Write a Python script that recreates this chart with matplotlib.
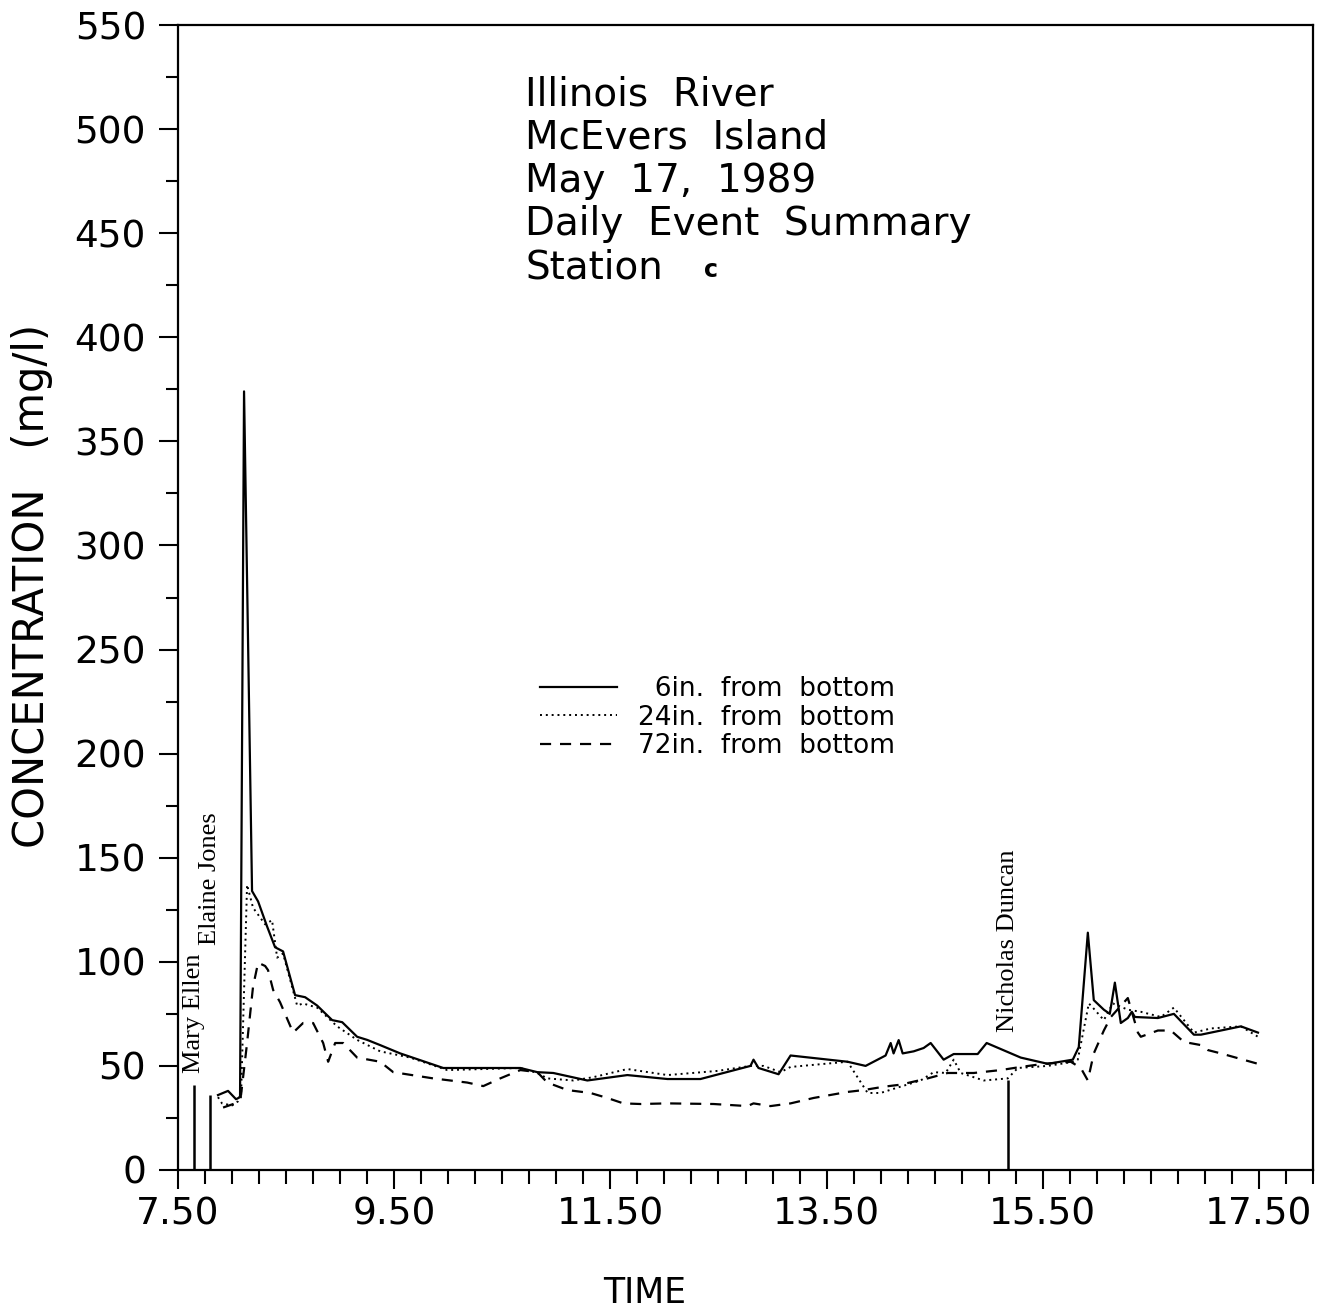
import matplotlib
matplotlib.use('Agg')
import matplotlib.pyplot as plt
from matplotlib.ticker import FixedLocator, FuncFormatter
from matplotlib.lines import Line2D
import numpy as np

# ---------------- data ----------------
t_6in = [7.870, 7.963, 8.037, 8.074, 8.111, 8.185, 8.241, 8.324, 8.398, 8.472,
         8.583, 8.676, 8.787, 8.926, 9.019, 9.157, 9.250, 9.370, 9.556, 9.954,
         10.481, 10.667, 10.824, 10.972, 11.287, 11.657, 12.028, 12.333, 12.796, 12.824,
         12.870, 13.056, 13.167, 13.694, 13.861, 13.972, 14.046, 14.093, 14.120, 14.167,
         14.204, 14.306, 14.398, 14.463, 14.583, 14.676, 14.898, 14.981, 15.296, 15.546,
         15.778, 15.833, 15.917, 15.972, 16.065, 16.120, 16.167, 16.222, 16.287, 16.324,
         16.352, 16.565, 16.713, 16.898, 16.963, 17.333, 17.491]
c_6in = [36, 38, 34, 35, 374, 134, 129, 117, 107, 105,
         84, 83, 79, 72, 71, 64, 62.5, 60, 56, 49,
         49, 49, 47, 46.6, 43, 45.6, 43.7, 43.7, 50, 53,
         49, 46, 55, 52, 50, 53, 55, 61, 56, 62.4,
         56, 57, 58.6, 61, 53, 55.7, 55.7, 61, 54, 51,
         53, 59, 114, 81.6, 77, 75, 90, 70.6, 73, 76,
         73.5, 73, 75, 65, 65, 69, 66]

t_24in = [7.870, 7.907, 8.000, 8.056, 8.083, 8.139, 8.194, 8.306, 8.370, 8.417,
          8.472, 8.602, 8.657, 8.787, 8.972, 9.157, 9.370, 9.648, 9.991, 10.667,
          10.824, 10.917, 11.157, 11.343, 11.657, 12.028, 12.491, 12.796, 12.917, 13.074,
          13.167, 13.694, 13.880, 14.000, 14.120, 14.370, 14.491, 14.602, 14.676, 14.741,
          14.954, 15.176, 15.269, 15.546, 15.787, 15.824, 15.926, 15.963, 16.065, 16.148,
          16.287, 16.407, 16.593, 16.713, 16.898, 17.056, 17.333, 17.491]
c_24in = [35, 32, 31, 33, 35, 137, 126, 118, 120, 102,
          104, 79, 80, 78, 69, 62.5, 57, 54, 48, 49,
          46.6, 44, 43, 44.6, 48.5, 45.6, 47.6, 50, 50, 47,
          49.5, 52, 37, 37, 39, 43, 47, 46.6, 53, 46.6,
          43, 44, 49, 50, 52, 53, 80, 78, 72, 80,
          77, 76, 73.5, 78, 66, 68, 69, 64]

t_72in = [7.917, 8.028, 8.083, 8.139, 8.194, 8.241, 8.306, 8.333, 8.380, 8.444,
          8.565, 8.657, 8.750, 8.843, 8.889, 8.954, 9.028, 9.157, 9.370, 9.491,
          9.861, 10.176, 10.324, 10.481, 10.667, 10.824, 10.917, 11.102, 11.315, 11.472,
          11.620, 11.778, 12.028, 12.454, 12.769, 12.824, 12.981, 13.167, 13.380, 13.694,
          13.843, 14.028, 14.185, 14.435, 14.620, 14.861, 15.111, 15.296, 15.509, 15.759,
          15.852, 15.917, 15.972, 16.065, 16.130, 16.287, 16.380, 16.407, 16.565, 16.685,
          16.806, 16.963, 17.028, 17.148, 17.491]
c_72in = [30, 32, 36, 61, 88, 99.6, 98, 96, 86.5, 80.6,
          66, 70.6, 70.6, 61, 52, 61, 61, 54, 52, 47,
          44, 42, 40.3, 44, 48, 47, 42, 38.4, 37, 34.6,
          32, 31.7, 32, 31.7, 30.7, 32, 30.7, 32, 34.6, 37.5,
          38.4, 40, 41, 44, 46.6, 46.6, 48, 49.5, 51, 52,
          49, 43, 56, 67, 73.5, 82.6, 66, 64, 67, 67,
          61.5, 60, 57.6, 56, 51]

series_labels = ["  6in.  from  bottom", "24in.  from  bottom", "72in.  from  bottom"]

# vessel passage markers
vessel_names = ["Mary Ellen", "Elaine Jones", "Nicholas Duncan"]
vessel_times = [7.648, 7.796, 15.176]
vessel_heights = [41, 36, 43]
vessel_label_y = [46.6, 108, 66.3]

title_lines = ["Illinois  River", "McEvers  Island", "May  17,  1989",
               "Daily  Event  Summary", "Station"]
station_id = "c"

x_major = [7.5, 9.5, 11.5, 13.5, 15.5, 17.5]
y_major = list(range(0, 551, 50))

# ---------------- figure ----------------
W, H = 1319, 1311
fig = plt.figure(figsize=(W / 100, H / 100), dpi=100)
L, R, T, B = 178, 1313, 25, 1170
ax = fig.add_axes([L / W, 1 - B / H, (R - L) / W, (B - T) / H])

lw = 1.6
ax.plot(t_6in, c_6in, color='black', lw=lw, linestyle='-')
ax.plot(t_24in, c_24in, color='black', lw=1.4, linestyle=(0, (1, 2)))
ax.plot(t_72in, c_72in, color='black', lw=lw, linestyle=(0, (5, 4)))

for name, tx, hgt, ly in zip(vessel_names, vessel_times, vessel_heights, vessel_label_y):
    ax.vlines(tx, 0, hgt, color='black', lw=1.8)
    ax.text(tx, ly, name, rotation=90, ha='center', va='bottom',
            family='Liberation Serif', fontsize=19, color='black')

ax.set_xlim(7.5, 18.0)
ax.set_ylim(0, 550)

ax.xaxis.set_major_locator(FixedLocator(x_major))
ax.xaxis.set_minor_locator(FixedLocator(list(np.arange(7.5, 18.001, 0.25))))
ax.yaxis.set_major_locator(FixedLocator(y_major))
ax.yaxis.set_minor_locator(FixedLocator(list(range(25, 550, 50))))
ax.xaxis.set_major_formatter(FuncFormatter(lambda v, p: f"{v:.2f}"))
ax.yaxis.set_major_formatter(FuncFormatter(lambda v, p: f"{int(v)}"))

ax.tick_params(axis='both', which='both', direction='out', width=1.5, colors='black')
ax.tick_params(axis='x', which='major', length=14, pad=5, labelsize=27)
ax.tick_params(axis='x', which='minor', length=10)
ax.tick_params(axis='y', which='major', length=14, pad=9, labelsize=27)
ax.tick_params(axis='y', which='minor', length=9)
for s in ax.spines.values():
    s.set_linewidth(1.6)
    s.set_color('black')

# axis labels
fig.text(32 / W, 1 - 586 / H, "CONCENTRATION   (mg/l)", rotation=90,
         ha='center', va='center', fontsize=30)
fig.text(645 / W, 1 - 1293 / H, "TIME", ha='center', va='center', fontsize=25)

# title block
for i, line in enumerate(title_lines):
    fig.text(525 / W, 1 - (105 + 43.3 * i) / H, line, ha='left', va='baseline',
             fontsize=28)
fig.text(704 / W, 1 - 277 / H, station_id, ha='left', va='baseline',
         fontsize=17, fontweight='bold')

# legend
handles = [Line2D([], [], color='black', lw=lw, linestyle='-'),
           Line2D([], [], color='black', lw=1.4, linestyle=(0, (1, 2))),
           Line2D([], [], color='black', lw=lw, linestyle=(0, (5, 4)))]
fig.legend(handles, series_labels, loc='upper left',
           bbox_to_anchor=(540 / W, 1 - 676 / H), bbox_transform=fig.transFigure,
           frameon=False, fontsize=19, handlelength=2.9, handletextpad=0.8,
           labelspacing=0.1, borderpad=0, borderaxespad=0)

fig.savefig('out.png', dpi=100, facecolor='white')
